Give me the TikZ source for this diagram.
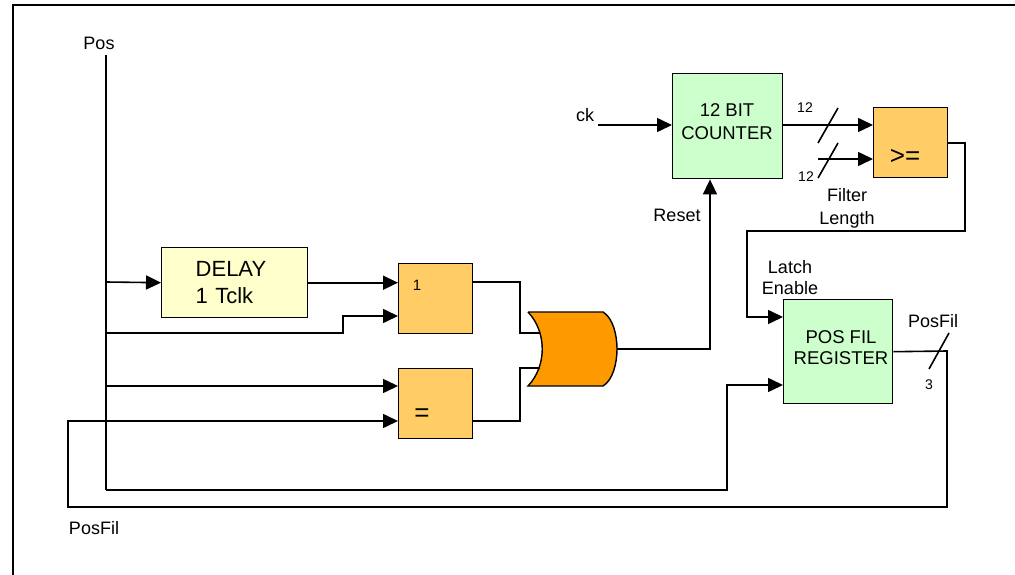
\documentclass[tikz,border=0pt]{standalone}
\usepackage{fontspec}
\setmainfont{Liberation Sans}
\usetikzlibrary{arrows.meta}
\definecolor{lgreen}{RGB}{204,255,204}
\definecolor{lyellow}{RGB}{255,255,204}
\definecolor{lorange}{RGB}{255,204,102}
\definecolor{dorange}{RGB}{255,153,0}
\begin{document}
\begin{tikzpicture}[x=1pt,y=-1pt,
  wire/.style={line width=1.6pt,line join=miter},
  arr/.style={wire,-{Triangle[length=15pt,width=14pt]}},
  blk/.style={draw,line width=1.4pt,inner sep=0pt,anchor=north west},
  lbl/.style={font=\fontsize{18pt}{21pt}\selectfont,inner sep=0pt,align=center},
  small/.style={font=\fontsize{14pt}{16pt}\selectfont,inner sep=0pt},
]
\useasboundingbox (0,0) rectangle (1015,575);
% frame
\draw[line width=2.4pt] (13,575) -- (13,5) -- (1015,5);

% blocks
\node[blk,fill=lyellow,minimum width=146pt,minimum height=70pt,
      text width=78pt,inner xsep=34pt,align=left,
      font=\fontsize{22pt}{27pt}\selectfont] (delay) at (161,247) {DELAY\\1 Tclk};
\node[blk,fill=lorange,minimum width=74pt,minimum height=70pt] (g1) at (398,263) {};
\node[blk,fill=lorange,minimum width=74pt,minimum height=70pt] (g2) at (398,368) {};
\node[blk,fill=lgreen,minimum width=110pt,minimum height=105pt] (counter) at (672,73) {};
\node[blk,fill=lorange,minimum width=74pt,minimum height=70pt] (ge) at (873,107) {};
\node[blk,fill=lgreen,minimum width=109pt,minimum height=104pt] (reg) at (783,299) {};

% block labels
\node[inner sep=0pt,align=center,font=\fontsize{18.5pt}{23pt}\selectfont] (countertxt) at (727,121.5) {12 BIT\\COUNTER};
\node[inner sep=0pt,align=center,font=\fontsize{18.5pt}{21pt}\selectfont] (regtxt) at (841,347.5) {POS FIL\\REGISTER};
\node[small,font=\fontsize{15pt}{17pt}\selectfont] (g1lab) at (417,285) {1};
\node[inner sep=0pt,font=\fontsize{26pt}{28pt}\selectfont] (g2lab) at (422,415) {=};
\node[inner sep=0pt,font=\fontsize{26pt}{28pt}\selectfont] (gelab) at (905,157) {>=};

% OR gate
\draw[line width=1.4pt,fill=dorange] (528,312) -- (603,312)
  .. controls (613,318) and (617,335) .. (617,349)
  .. controls (617,363) and (613,380) .. (603,386)
  -- (528,386)
  .. controls (547,366) and (547,332) .. (528,312);
\coordinate (orin1) at (540,333);
\coordinate (orin2) at (540,368);
\coordinate (orout) at (617,349);

% text labels
\node[lbl] (pos) at (99,43) {Pos};
\node[lbl] (posfilb) at (94,528) {PosFil};
\node[lbl] (ck) at (585,115) {ck};
\node[lbl] (reset) at (677,215) {Reset};
\node[lbl,font=\fontsize{18pt}{23pt}\selectfont] (filt) at (847,208) {Filter\\Length};
\node[lbl] (latch) at (790,278) {Latch\\Enable};
\node[lbl] (posfilr) at (933,321) {PosFil};
\node[small] (three) at (929,385) {3};
\node[small] (n12a) at (805,108) {12};
\node[small] (n12b) at (806,177) {12};

% coordinates
\coordinate (posTop) at (106,55);
\coordinate (posBot) at (106,490);
\coordinate (j1) at (106,282);
\coordinate (j2) at (106,333);
\coordinate (j3) at (106,386);
\coordinate (ckin) at (598,125);
\coordinate (flin) at (818,159);

% wires
\draw[wire] (posTop) -- (posBot);
\draw[arr] (j1) -- (delay.west);
\draw[arr] (delay.east) -- (delay.east -| g1.west);
\draw[arr] (j2) -- (343,333) |- (g1.west |- 0,316);
\draw[arr] (j3) -- (j3 -| g2.west);
\draw[arr] (reg.east) -- (947,351) -- (947,507) -- (68,507) |- (g2.west |- 0,421);
\draw[wire] (g1.east |- 0,282) -- (520,282) |- (orin1);
\draw[wire] (g2.east |- 0,421) -- (520,421) |- (orin2);
\draw[arr] (orout) -| (counter.south -| 710,0);
\draw[arr] (ckin) -- (ckin -| counter.west);
\draw[arr] (counter.east |- 0,125) -- (ge.west |- 0,125);
\draw[arr] (flin) -- (flin -| ge.west);
\draw[arr] (ge.east |- 0,143) -- (965,143) -- (965,231) -- (747,231) |- (reg.west |- 0,317);
\draw[arr] (posBot) -- (727,490) |- (reg.west |- 0,385);

% bus slashes
\draw[wire] (818,143) -- (838,108);
\draw[wire] (818,178) -- (838,143);
\draw[wire] (929,369) -- (949,333);
\end{tikzpicture}
\end{document}
